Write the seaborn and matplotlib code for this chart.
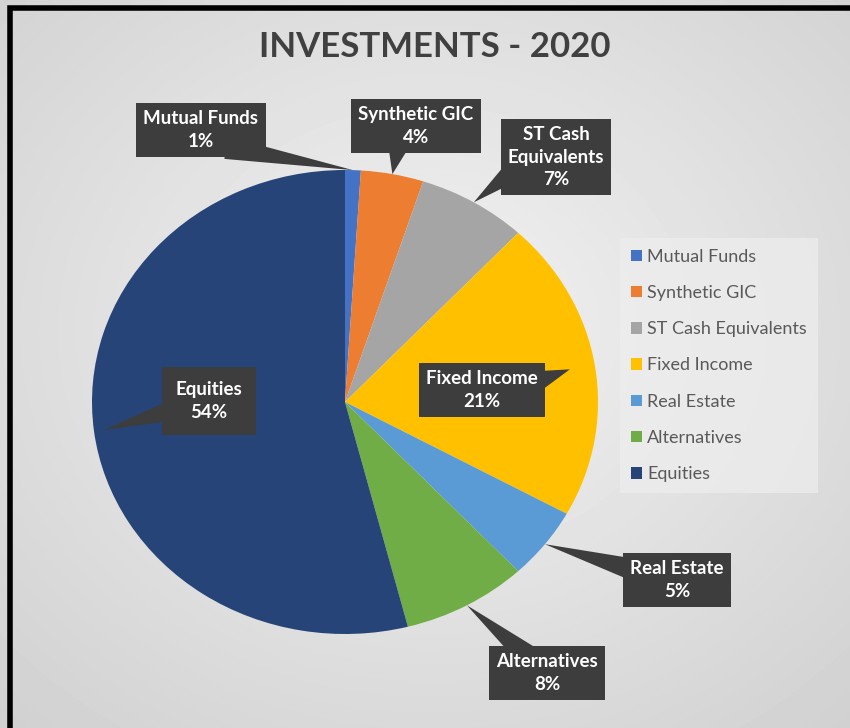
import numpy as np
import matplotlib
matplotlib.use("Agg")
import matplotlib.pyplot as plt
import seaborn as sns

# slice data, clockwise from 12 o'clock
categories = ["Mutual Funds", "Synthetic GIC", "ST Cash Equivalents", "Fixed Income",
              "Real Estate", "Alternatives", "Equities"]
shares = [1, 4, 7, 21, 5, 8, 54]
callout_names = ["Mutual Funds", "Synthetic GIC", "ST Cash\nEquivalents", "Fixed Income",
                 "Real Estate", "Alternatives", "Equities"]
slice_colors = ["#4472C4", "#ED7D31", "#A5A5A5", "#FFC000", "#5B9BD5", "#70AD47", "#264478"]

# callout layout (pixel centre of box, anchor of pointer on box, pointer depth into slice)
box_xy = [(201, 130), (416, 126), (556, 157), (482, 390), (677, 580), (547, 673), (209, 401)]
box_rel = [(0.72, 0.05), (0.35, 0.05), (0.08, 0.3), (0.97, 0.7), (0.05, 0.75), (0.3, 0.95), (0.03, 0.3)]
box_pad = [0.38, 0.38, 0.38, 0.38, 0.38, 0.38, 0.75]
tip_r = [1.0, 1.0, 1.0, 0.9, 1.0, 1.0, 0.96]

W, H = 850, 728
sns.set_theme(style="white")
plt.rcParams["font.family"] = ["Lato", "DejaVu Sans"]

fig = plt.figure(figsize=(W / 100, H / 100), dpi=100)

# soft radial grey background with a black frame on top/left
bg = fig.add_axes([0, 0, 1, 1])
yy, xx = np.mgrid[0:H, 0:W]
dist = np.hypot((xx - 430) / W, (yy - 330) / H)
bg.imshow(0.95 - 0.18 * dist, cmap="gray", vmin=0, vmax=1,
          extent=[0, W, H, 0], aspect="auto", interpolation="bilinear")
bg.set_xlim(0, W)
bg.set_ylim(H, 0)
bg.axis("off")
bg.plot([10, 10, W], [H, 8, 8], color="black", lw=4, solid_joinstyle="miter")

bg.text(435, 47, "INVESTMENTS - 2020", ha="center", va="center",
        fontsize=25, fontweight="bold", color="#404040")

# pie (slightly stretched horizontally like the reference)
pie_ax = fig.add_axes([92 / W, 1 - 634 / H, 506 / W, 464 / H])
wedges, _ = pie_ax.pie(shares, colors=slice_colors, startangle=90, counterclock=False,
                       radius=1, wedgeprops=dict(linewidth=0))
pie_ax.set_aspect("auto")
pie_ax.set_xlim(-1, 1)
pie_ax.set_ylim(-1, 1)

for w, name, val, bxy, rel, pad, r in zip(wedges, callout_names, shares, box_xy,
                                          box_rel, box_pad, tip_r):
    mid = np.deg2rad((w.theta1 + w.theta2) / 2)
    tip = (r * np.cos(mid), r * np.sin(mid))
    pie_ax.annotate(f"{name}\n{val}%", xy=tip, xycoords="data",
                    xytext=bxy, textcoords=bg.transData,
                    ha="center", va="center", fontsize=13.5, fontweight="bold",
                    color="white", linespacing=1.4, annotation_clip=False,
                    bbox=dict(boxstyle=f"square,pad={pad}", fc="#3d3d3d", ec="none"),
                    arrowprops=dict(arrowstyle="wedge,tail_width=1.2,shrink_factor=0.5",
                                    fc="#3d3d3d", ec="none", patchA=None,
                                    shrinkA=0, shrinkB=0, relpos=rel))

leg = pie_ax.legend(wedges, categories, loc="upper left",
                    bbox_to_anchor=(620 / W, 1 - 238 / H), bbox_transform=fig.transFigure,
                    frameon=True, fancybox=False, fontsize=13,
                    handlelength=0.6, handleheight=0.6, handletextpad=0.3,
                    labelspacing=1.12, borderpad=0.6, borderaxespad=0,
                    labelcolor="#595959")
leg.get_frame().set_facecolor("#eeeeee")
leg.get_frame().set_edgecolor("none")
leg.get_frame().set_alpha(0.7)

fig.savefig("out.png", dpi=100)
